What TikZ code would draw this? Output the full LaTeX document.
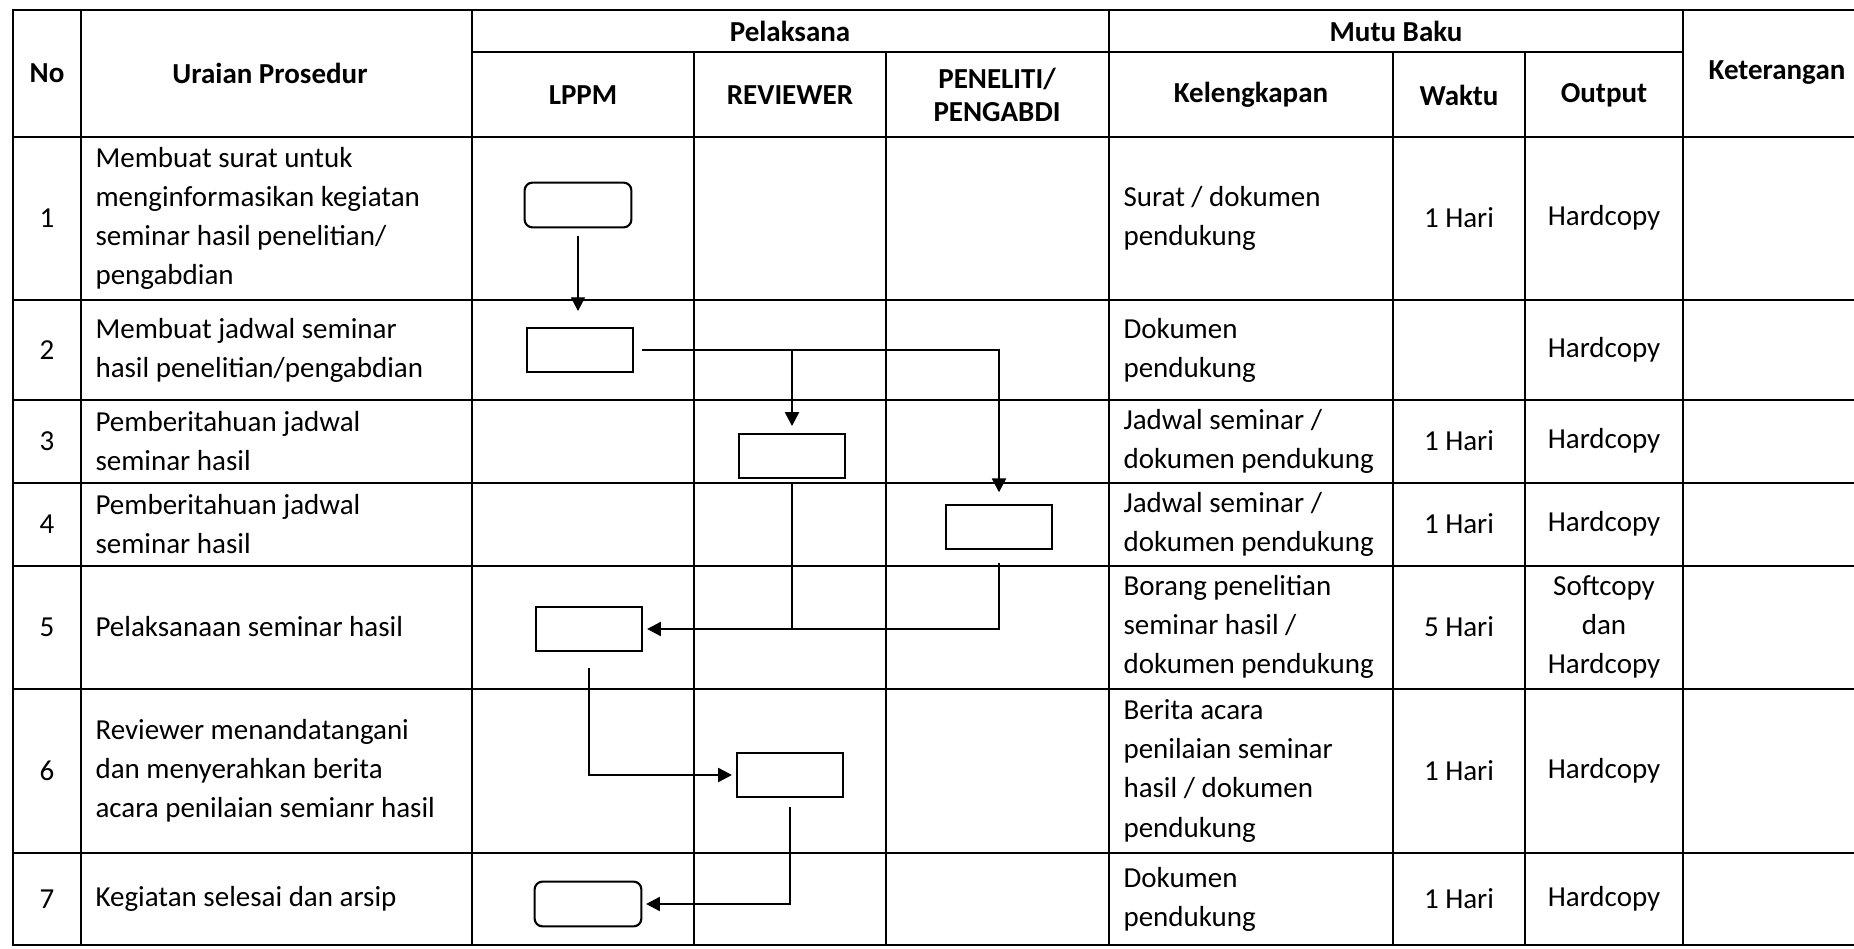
\documentclass[tikz,border=0pt]{standalone}
\usepackage{fontspec}
\setmainfont{Carlito}
\usetikzlibrary{arrows.meta}

\begin{document}
\begin{tikzpicture}[x=0.3793pt, y=-0.3793pt, font=\fontsize{11}{14.8}\selectfont]
\tikzstyle{every node} = [inner sep=0pt]
\tikzstyle{garis} = [line width=1pt, line cap=rect]
\tikzstyle{hd} = [font=\fontsize{11}{12.6}\selectfont\bfseries, align=center]
\tikzstyle{txt} = [anchor=west, align=left]
\tikzstyle{kotak} = [draw, line width=0.8pt, minimum width=40.5pt, minimum height=17pt]
\tikzstyle{aliran} = [line width=0.4pt, -{Triangle[length=5.2pt,width=5.4pt]}]
\useasboundingbox (0,0) rectangle (1854,949);

% tabel
\foreach \y in {10,137,300,400,483,566,689,853,945}
\draw [garis] (13,\y) -- (1854,\y);
\draw [garis] (472,52) -- (1683,52);
\foreach \x in {13,81,472,1109,1683}
\draw [garis] (\x,10) -- (\x,945);
\foreach \x in {694,886,1393,1525}
\draw [garis] (\x,52) -- (\x,945);

% judul kolom
\node [hd] (hno) at (47,73) {No};
\node [hd] (hur) at (270,73) {Uraian Prosedur};
\node [hd] (hpl) at (790,31) {Pelaksana};
\node [hd] (hmb) at (1396,31) {Mutu Baku};
\node [hd] (hket) at (1777,73) {Keterangan};
\node [hd] (hlppm) at (583,95) {LPPM};
\node [hd] (hrev) at (790,95) {REVIEWER};
\node [hd] (hpen) at (997,95) {PENELITI/\\PENGABDI};
\node [hd] (hkel) at (1251,95) {Kelengkapan};
\node [hd] (hwkt) at (1459,95) {Waktu};
\node [hd] (hout) at (1604,95) {Output};

% isi
\foreach \n/\y in {1/218,2/350,3/441,4/524,5/627,6/771,7/899}
\node (no\n) at (47,\y) {\n};
\node [txt] (ur1) at (95,218) {Membuat surat untuk\\menginformasikan kegiatan\\seminar hasil penelitian/\\pengabdian};
\node [txt] (ur2) at (95,350) {Membuat jadwal seminar\\hasil penelitian/pengabdian};
\node [txt] (ur3) at (95,441) {Pemberitahuan jadwal\\seminar hasil};
\node [txt] (ur4) at (95,524) {Pemberitahuan jadwal\\seminar hasil};
\node [txt] (ur5) at (95,627) {Pelaksanaan seminar hasil};
\node [txt] (ur6) at (95,771) {Reviewer menandatangani\\dan menyerahkan berita\\acara penilaian semianr hasil};
\node [txt] (ur7) at (95,899) {Kegiatan selesai dan arsip};

\node [txt] (kl1) at (1123,218) {Surat / dokumen\\pendukung};
\node [txt] (kl2) at (1123,350) {Dokumen\\pendukung};
\node [txt] (kl3) at (1123,441) {Jadwal seminar /\\dokumen pendukung};
\node [txt] (kl4) at (1123,524) {Jadwal seminar /\\dokumen pendukung};
\node [txt] (kl5) at (1123,627) {Borang penelitian\\seminar hasil /\\dokumen pendukung};
\node [txt] (kl6) at (1123,771) {Berita acara\\penilaian seminar\\hasil / dokumen\\pendukung};
\node [txt] (kl7) at (1123,899) {Dokumen\\pendukung};

\foreach \n/\y/\w in {1/218/1, 3/441/1, 4/524/1, 5/627/5, 6/771/1, 7/899/1}
\node (wk\n) at (1459,\y) {\w{} Hari};
\foreach \n/\y in {1/218, 2/350, 3/441, 4/524, 6/771, 7/899}
\node (out\n) at (1604,\y) {Hardcopy};
\node [align=center] (out5) at (1604,627) {Softcopy\\dan\\Hardcopy};

% alur
\node [kotak, rounded corners=3pt] (lppm1) at (578,205) {};
\node [kotak] (lppm2) at (580,350) {};
\node [kotak] (rev3) at (792,456) {};
\node [kotak] (pen4) at (999,527) {};
\node [kotak] (lppm5) at (589,629) {};
\node [kotak] (rev6) at (790,775) {};
\node [kotak, rounded corners=3pt] (lppm7) at (588,904) {};

\draw [aliran, shorten <=2.8pt, shorten >=5.9pt] (lppm1.south) -- (lppm1.south |- lppm2.north);
\draw [aliran, shorten <=2.8pt, shorten >=4.3pt] (lppm2.east) -- (pen4.north |- lppm2.east) -- (pen4.north);
\draw [aliran, shorten >=2.5pt] (rev3.north |- lppm2.east) -- (rev3.north);
\draw [line width=0.4pt, shorten <=1.3pt] (rev3.south) -- (rev3.south |- lppm5.east);
\foreach \from/\to/\sisi/\gap in {pen4/lppm5/east/4.7pt, lppm5/rev6/west/5.9pt, rev6/lppm7/east/3.2pt}
\draw [aliran, shorten <=\gap, shorten >=1.4pt] (\from.south) -- (\from.south |- \to.\sisi) -- (\to.\sisi);
\end{tikzpicture}
\end{document}
